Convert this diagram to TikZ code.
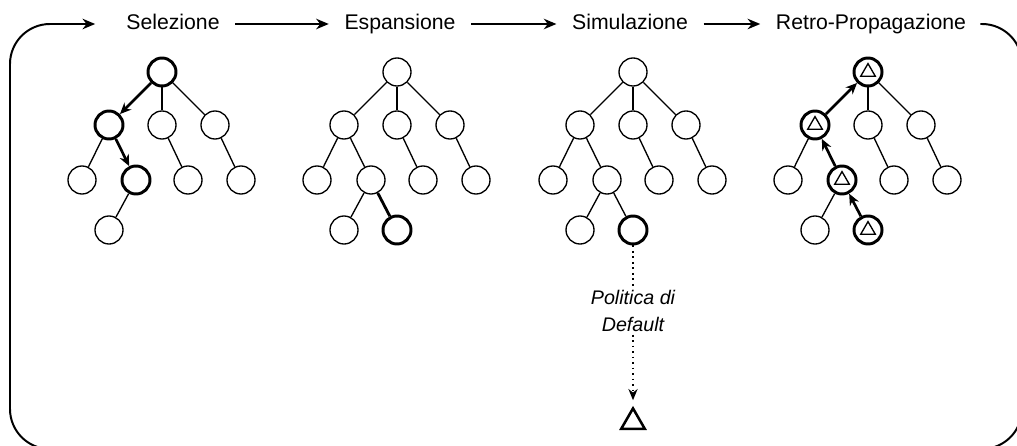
\documentclass[tikz,border=0pt]{standalone}
\usepackage{fontspec}
\setsansfont{Liberation Sans}
\usetikzlibrary{shapes.geometric, arrows.meta, positioning}

\begin{document}
\begin{tikzpicture}[
    x=0.025cm, y=-0.025cm,
    font=\sffamily\fontsize{15.1}{18}\selectfont,
    state/.style={draw, circle, line width=0.95pt, minimum size=0.7cm, inner sep=0pt},
    pick/.style={state, line width=2.1pt},
    val/.style={draw, regular polygon, regular polygon sides=3, line width=0.95pt, minimum size=0.42cm, inner sep=0pt},
    edge/.style={line width=0.95pt},
    walk/.style={-{Stealth[length=8pt,width=7pt]}, line width=1.9pt},
    phase/.style={inner sep=0pt, text height=11pt, text depth=3pt},
    flow/.style={-{Stealth[length=9pt,width=7.5pt]}, line width=1.3pt, shorten <=11pt, shorten >=11pt},
    rollout/.style={line width=1.3pt, dash pattern=on 1.3pt off 2.6pt}
]
\useasboundingbox (0,0) rectangle (1017,446);

% 1. Phase labels
\node[phase] (sel) at (173,24) {Selezione};
\node[phase] (esp) at (400,24) {Espansione};
\node[phase] (sim) at (630,24) {Simulazione};
\node[phase] (ret) at (871,24) {Retro-Propagazione};

\draw[flow] (sel) -- (esp);
\draw[flow] (esp) -- (sim);
\draw[flow] (sim) -- (ret);
\draw[-{Stealth[length=9pt,width=7.5pt]}, line width=1.4pt, rounded corners=1cm,
      shorten <=10pt, shorten >=22pt]
    (ret.east) -- (1022,24) -- (1022,449) -- (10,449) -- (10,24) -- (sel.west);

% 2. Selezione
\node[pick]  (s0) at (162,72) {};
\node[pick]  (s1) at (109,125) {};
\node[state] (s2) at (162,125) {};
\node[state] (s3) at (215,125) {};
\node[state] (s4) at (82,180) {};
\node[pick]  (s5) at (136,180) {};
\node[state] (s6) at (188,180) {};
\node[state] (s7) at (241,180) {};
\node[state] (s8) at (109,230) {};
\draw[walk] (s0) -- (s1);
\draw[walk] (s1) -- (s5);
\draw[edge] (s0) -- (s2);
\draw[edge] (s0) -- (s3);
\draw[edge] (s1) -- (s4);
\draw[edge] (s2) -- (s6);
\draw[edge] (s3) -- (s7);
\draw[edge] (s5) -- (s8);

% 3. Espansione
\node[state] (e0) at (397,72) {};
\node[state] (e1) at (344,125) {};
\node[state] (e2) at (397,125) {};
\node[state] (e3) at (450,125) {};
\node[state] (e4) at (317,180) {};
\node[state] (e5) at (371,180) {};
\node[state] (e6) at (423,180) {};
\node[state] (e7) at (476,180) {};
\node[state] (e8) at (344,230) {};
\node[pick]  (e9) at (397,230) {};
\draw[edge] (e0) -- (e1);
\draw[edge] (e0) -- (e2);
\draw[edge] (e0) -- (e3);
\draw[edge] (e1) -- (e4);
\draw[edge] (e1) -- (e5);
\draw[edge] (e2) -- (e6);
\draw[edge] (e3) -- (e7);
\draw[edge] (e5) -- (e8);
\draw[edge, line width=2pt] (e5) -- (e9);

% 4. Simulazione
\node[state] (m0) at (633,72) {};
\node[state] (m1) at (580,125) {};
\node[state] (m2) at (633,125) {};
\node[state] (m3) at (686,125) {};
\node[state] (m4) at (553,180) {};
\node[state] (m5) at (607,180) {};
\node[state] (m6) at (659,180) {};
\node[state] (m7) at (712,180) {};
\node[state] (m8) at (580,230) {};
\node[pick]  (m9) at (633,230) {};
\draw[edge] (m0) -- (m1);
\draw[edge] (m0) -- (m2);
\draw[edge] (m0) -- (m3);
\draw[edge] (m1) -- (m4);
\draw[edge] (m1) -- (m5);
\draw[edge] (m2) -- (m6);
\draw[edge] (m3) -- (m7);
\draw[edge] (m5) -- (m8);
\draw[edge] (m5) -- (m9);

\node[align=center, inner sep=2pt, font=\sffamily\itshape\fontsize{14}{19}\selectfont]
    (pol) at (633,311) {Politica di\\Default};
\node[val, line width=1.8pt, minimum size=0.68cm] (out) at (633,422) {};
\draw[rollout] (m9) -- (pol);
\draw[rollout, -{Stealth[length=8pt,width=6.5pt]}, shorten >=4pt] (pol) -- (out.north);

% 5. Retro-Propagazione
\node[pick]  (r0) at (868,72) {};
\node[pick]  (r1) at (815,125) {};
\node[state] (r2) at (868,125) {};
\node[state] (r3) at (921,125) {};
\node[state] (r4) at (788,180) {};
\node[pick]  (r5) at (842,180) {};
\node[state] (r6) at (894,180) {};
\node[state] (r7) at (947,180) {};
\node[state] (r8) at (815,230) {};
\node[pick]  (r9) at (868,230) {};
\node[val] (v0) at (r0) {};
\node[val] (v1) at (r1) {};
\node[val] (v5) at (r5) {};
\node[val] (v9) at (r9) {};
\draw[walk] (r9) -- (r5);
\draw[walk] (r5) -- (r1);
\draw[walk] (r1) -- (r0);
\draw[edge] (r0) -- (r2);
\draw[edge] (r0) -- (r3);
\draw[edge] (r1) -- (r4);
\draw[edge] (r2) -- (r6);
\draw[edge] (r3) -- (r7);
\draw[edge] (r5) -- (r8);

\end{tikzpicture}
\end{document}
